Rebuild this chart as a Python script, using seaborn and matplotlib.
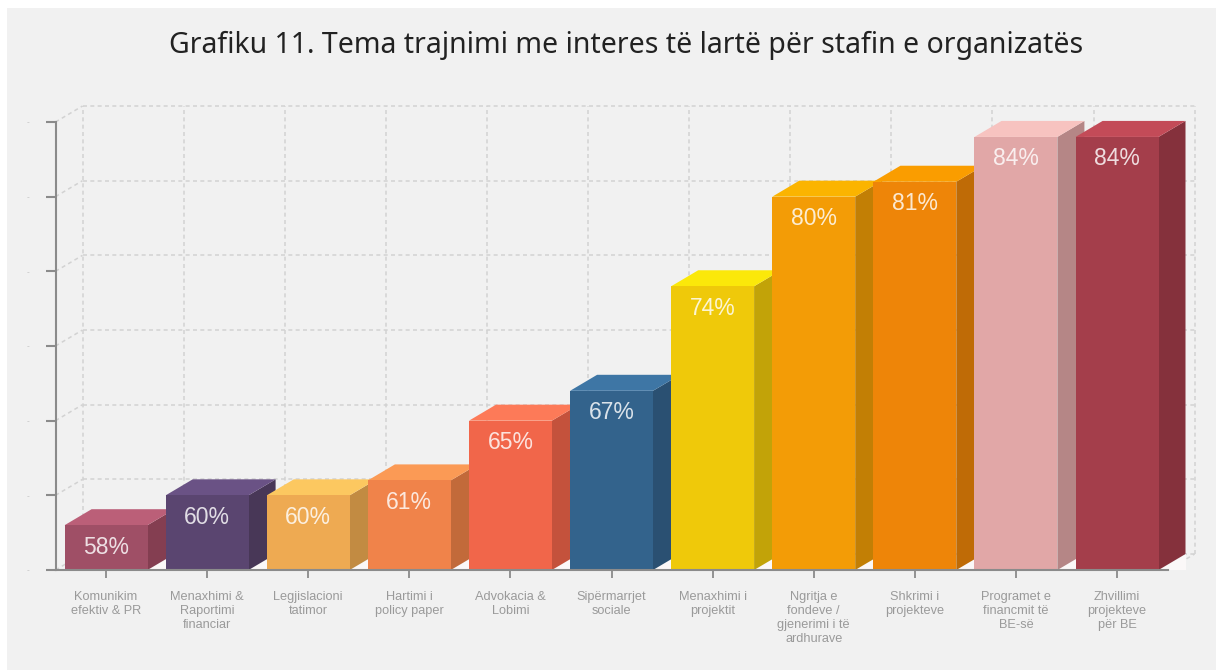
import matplotlib
matplotlib.use("Agg")
import matplotlib.pyplot as plt
from matplotlib.patches import Polygon, Rectangle
import pandas as pd
import seaborn as sns

title = "Grafiku 11. Tema trajnimi me interes të lartë për stafin e organizatës"
categories = ["Komunikim\nefektiv & PR", "Menaxhimi &\nRaportimi\nfinanciar", "Legjislacioni\ntatimor",
              "Hartimi i\npolicy paper", "Advokacia &\nLobimi", "Sipërmarrjet\nsociale",
              "Menaxhimi i\nprojektit", "Ngritja e\nfondeve /\ngjenerimi i të\nardhurave",
              "Shkrimi i\nprojekteve", "Programet e\nfinancmit të\nBE-së", "Zhvillimi\nprojekteve\npër BE"]
values = [58, 60, 60, 61, 65, 67, 74, 80, 81, 84, 84]
front_colors = ["#9f4f66", "#5a4570", "#eeaa52", "#f0834a", "#f1664a", "#33638c",
                "#efc90a", "#f39c06", "#ee8508", "#e1a7a7", "#a43e4b"]
top_colors = ["#bb5f78", "#6a5285", "#fcc860", "#fb9a55", "#fd7a58", "#3e76a5",
              "#fbe80a", "#fbb400", "#fa9d00", "#f7c3c0", "#c34b58"]
side_colors = ["#843e51", "#483757", "#c28b42", "#c26a3a", "#c4523c", "#2a5072",
               "#c2a308", "#c27f05", "#bf6b06", "#b58686", "#85313c"]
y_ticks = [55, 60, 65, 70, 75, 80, 85]

W, H = 1216, 670
sns.set_theme(style="white")
plt.rcParams["font.family"] = ["Liberation Sans", "DejaVu Sans"]

fig = plt.figure(figsize=(W / 100, H / 100), dpi=100, facecolor="white")
fig.add_artist(Rectangle((7 / W, 0), 1 - 7 / W, 1 - 8 / H, transform=fig.transFigure,
                         facecolor="#f1f1f1", edgecolor="none", zorder=-10))
L, R, T, B = 55.5, 1167.6, 122, 570
ax = fig.add_axes([L / W, 1 - B / H, (R - L) / W, (B - T) / H])
ax.patch.set_alpha(0)

df = pd.DataFrame({"cat": categories, "val": values})
sns.barplot(data=df, x="cat", y="val", hue="cat", palette=front_colors, legend=False,
            width=0.82, saturation=1, ax=ax, zorder=3)
ax.set_xlim(-0.5, 10.5)
ax.set_ylim(y_ticks[0], y_ticks[-1])

# depth of the 3D projection, in data units
dx = 27 / ((R - L) / len(categories))
dy = 16 / ((B - T) / (y_ticks[-1] - y_ticks[0]))
base = y_ticks[0]

# back wall grid
grid = dict(color="#d2d2d2", lw=1.1, ls=(0, (2.6, 2.2)), clip_on=False, zorder=1)
for t in y_ticks:
    ax.plot([-0.5 + dx, 10.5 + dx], [t + dy, t + dy], **grid)
    ax.plot([-0.5, -0.5 + dx], [t, t + dy], **grid)
for k in range(len(categories) + 1):
    ax.plot([k - 0.5 + dx] * 2, [base + dy, y_ticks[-1] + dy], **grid)
ax.plot([10.5, 10.5 + dx], [base, base + dy], **grid)

# 3D faces on each bar
for i, bar in enumerate(ax.patches):
    z = 3 + i * 0.1
    x0, x1 = bar.get_x(), bar.get_x() + bar.get_width()
    v = values[i]
    bar.set_zorder(z + 0.05)
    bar.set_edgecolor("none")
    ax.add_patch(Polygon([(x1, base), (x1 + dx, base), (x1 + dx, base + dy)], closed=True,
                         facecolor="#fbf8f8", edgecolor="none", clip_on=False, zorder=z))
    ax.add_patch(Polygon([(x1, base), (x1 + dx, base + dy), (x1 + dx, v + dy), (x1, v)], closed=True,
                         facecolor=side_colors[i], edgecolor="none", clip_on=False, zorder=z + 0.01))
    ax.add_patch(Polygon([(x0, v), (x1, v), (x1 + dx, v + dy), (x0 + dx, v + dy)], closed=True,
                         facecolor=top_colors[i], edgecolor="none", clip_on=False, zorder=z + 0.01))
    ax.annotate(f"{v}%", (i, v), xytext=(0, -22 * 0.72), textcoords="offset points",
                ha="center", va="center", fontsize=16.5, color="white", alpha=0.82, zorder=z + 0.06)

for s in ["top", "right"]:
    ax.spines[s].set_visible(False)
for s in ["left", "bottom"]:
    ax.spines[s].set_color("#8b8b8b")
    ax.spines[s].set_linewidth(1.5)
    ax.spines[s].set_zorder(5)

ax.set_xlabel("")
ax.set_ylabel("")
ax.set_yticks(y_ticks)
ax.set_yticklabels(["-"] * len(y_ticks), fontsize=6, color="#bdbdbd")
ax.tick_params(axis="y", length=7, width=1.5, color="#8b8b8b", pad=12, left=True)
ax.set_xticks(range(len(categories)))
ax.set_xticklabels(categories, fontsize=9.2, color="#9a9a9a", linespacing=1.22)
ax.tick_params(axis="x", length=6, width=1.3, color="#8b8b8b", pad=9, bottom=True)

fig.text(626 / W, 1 - 45 / H, title, ha="center", va="center", fontsize=20.5,
         color="#222222", family=["Noto Sans", "DejaVu Sans"])
fig.savefig("out.png", dpi=100, facecolor=fig.get_facecolor())
